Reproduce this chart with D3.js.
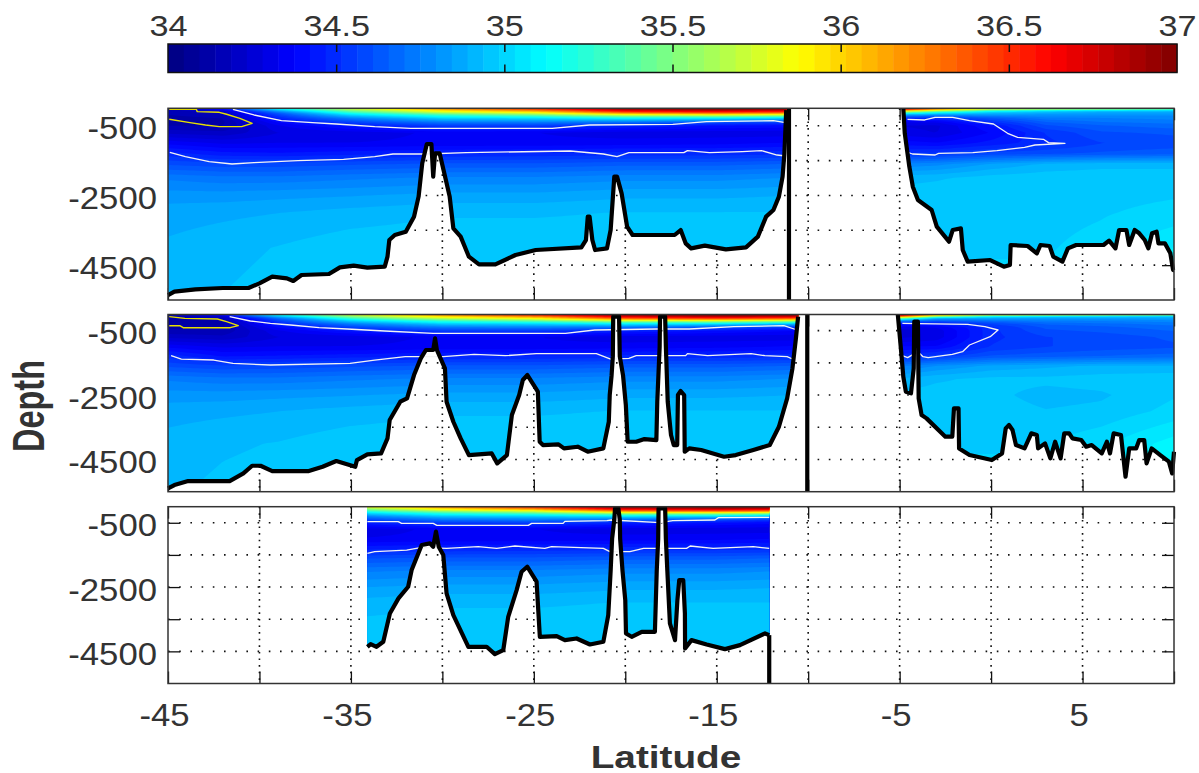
<!DOCTYPE html>
<html><head><meta charset="utf-8">
<style>html,body{margin:0;padding:0;background:#fff}svg{display:block}text{font-family:"Liberation Sans",Arial,sans-serif;fill:#333}</style>
<script src="https://cdn.jsdelivr.net/npm/d3@7"></script></head><body><div id="c"></div>
<script>
// ---------- tick labels ----------
const colorTicks=[34,34.5,35,35.5,36,36.5,37];
const latTicks=[-45,-40,-35,-30,-25,-20,-15,-10,-5,0,5,10];
const latLabels=[-45,-35,-25,-15,-5,5];
const depthTicks=[-500,-1500,-2500,-3500,-4500];
const depthLabels=[-500,-2500,-4500];
// ---------- salinity tables (columns by latitude, rows by depth) ----------
const fieldLats=[-45,-42,-39,-35,-30,-25,-20,-15,-11,-5,-3,0,3,6,10];
const fieldDepths=[0,50,100,150,200,250,300,400,500,700,1000,1300,1600,2000,2500,3000,4000,5500];
const salinityTop=[
[34.15,34.15,34.15,34.14,34.14,34.13,34.12,34.12,34.14,34.22,34.36,34.49,34.6,34.74,34.82,34.87,34.9,34.92],
[34.5,34.3,34.2,34.18,34.16,34.15,34.14,34.13,34.14,34.2,34.32,34.44,34.58,34.72,34.82,34.88,34.92,34.94],
[35.2,34.95,34.75,34.62,34.55,34.5,34.46,34.38,34.32,34.28,34.33,34.43,34.58,34.72,34.83,34.89,34.94,34.96],
[35.8,35.55,35.35,35.15,34.98,34.85,34.72,34.56,34.44,34.3,34.33,34.45,34.6,34.74,34.84,34.91,34.97,34.98],
[36.3,36,35.8,35.5,35.25,35.1,34.95,34.72,34.55,34.34,34.34,34.47,34.62,34.76,34.86,34.93,34.98,34.99],
[36.6,36.3,36,35.7,35.4,35.15,34.98,34.74,34.55,34.33,34.34,34.48,34.62,34.76,34.86,34.93,34.98,34.99],
[36.95,36.8,36.5,36.1,35.65,35.3,35.05,34.7,34.47,34.3,34.35,34.49,34.64,34.78,34.88,34.94,34.98,34.99],
[37,36.9,36.6,36.2,35.7,35.3,35,34.6,34.42,34.3,34.36,34.49,34.64,34.78,34.88,34.94,34.98,35],
[37,36.85,36.5,36.1,35.6,35.2,34.9,34.55,34.4,34.3,34.38,34.5,34.66,34.8,34.89,34.94,34.98,35],
[36.95,36.3,35.6,35.1,34.8,34.6,34.47,34.33,34.28,34.3,34.4,34.52,34.76,34.92,34.96,34.97,34.98,35],
[36.4,35.9,35.3,35,34.75,34.58,34.46,34.33,34.27,34.28,34.38,34.53,34.78,34.93,34.97,34.97,34.98,35],
[36,35.4,35.05,34.9,34.8,34.68,34.6,34.5,34.42,34.38,34.44,34.58,34.85,34.96,34.97,34.97,34.98,35],
[35.95,35.2,34.95,34.86,34.8,34.76,34.72,34.65,34.6,34.52,34.5,34.6,34.9,34.97,34.97,34.97,34.98,35],
[35.85,35.1,34.9,34.84,34.8,34.76,34.74,34.7,34.65,34.6,34.56,34.62,34.92,34.97,34.97,34.98,35,35.02],
[35.7,35.05,34.9,34.84,34.8,34.78,34.76,34.72,34.68,34.62,34.58,34.64,34.92,34.97,34.98,35,35.08,35.14]];
const salinityLower=[
[34.12,34.12,34.12,34.12,34.12,34.12,34.12,34.13,34.15,34.22,34.36,34.5,34.6,34.74,34.82,34.87,34.91,34.93],
[34.45,34.28,34.18,34.15,34.14,34.13,34.13,34.13,34.15,34.2,34.32,34.42,34.57,34.72,34.82,34.88,34.93,34.95],
[35.2,34.95,34.75,34.62,34.55,34.5,34.46,34.38,34.32,34.28,34.33,34.43,34.58,34.72,34.83,34.89,34.94,34.96],
[35.8,35.55,35.35,35.15,34.98,34.85,34.72,34.56,34.44,34.3,34.33,34.45,34.6,34.74,34.84,34.91,34.97,34.98],
[36.3,36,35.8,35.5,35.25,35.1,34.95,34.72,34.55,34.34,34.34,34.47,34.62,34.76,34.86,34.93,34.98,34.99],
[36.6,36.3,36,35.7,35.4,35.15,34.98,34.74,34.55,34.33,34.34,34.48,34.62,34.76,34.86,34.93,34.98,34.99],
[36.95,36.8,36.5,36.1,35.65,35.3,35.05,34.7,34.47,34.3,34.35,34.49,34.64,34.78,34.88,34.94,34.98,34.99],
[37,36.9,36.6,36.2,35.7,35.3,35,34.6,34.42,34.3,34.36,34.49,34.64,34.78,34.88,34.94,34.98,35],
[37,36.85,36.5,36.1,35.6,35.2,34.9,34.52,34.38,34.3,34.38,34.5,34.66,34.8,34.89,34.94,34.98,35],
[36.95,36.4,35.6,35.1,34.75,34.55,34.42,34.3,34.26,34.27,34.38,34.5,34.74,34.9,34.95,34.96,34.98,35],
[36.2,35.6,35,34.78,34.62,34.5,34.44,34.33,34.3,34.3,34.38,34.54,34.8,34.93,34.96,34.97,34.98,35],
[35.9,35.2,34.92,34.8,34.7,34.62,34.56,34.5,34.5,34.5,34.52,34.62,34.86,34.95,34.95,34.96,34.98,35],
[35.85,35.1,34.88,34.8,34.74,34.7,34.66,34.62,34.6,34.56,34.56,34.64,34.88,34.95,34.92,34.94,34.98,35],
[35.8,35.05,34.88,34.8,34.75,34.72,34.68,34.64,34.62,34.58,34.58,34.66,34.9,34.96,34.93,34.95,35.02,35.06],
[35.7,35,34.88,34.82,34.78,34.74,34.72,34.68,34.66,34.62,34.6,34.68,34.9,34.97,34.98,35,35.1,35.16]];
// ---------- sea floor [lat, depth] ----------
const floorTopWest=[[-45,5357],[-44.65,5261],[-43.5,5194],[-42,5156],[-40.6,5156],[-40,5022],[-39.3,4830],[-38.5,4879],[-38.15,4955],[-37.7,4783],[-36.2,4754],[-35.6,4563],[-34.85,4515],[-34.1,4573],[-33.15,4544],[-33,4257],[-32.9,3779],[-32.6,3635],[-32,3540],[-31.55,3109],[-31.3,2535],[-31.1,1579],[-30.85,1024],[-30.6,1024],[-30.5,1961],[-30.4,1292],[-30.15,1292],[-29.85,1961],[-29.6,2535],[-29.4,3444],[-29,3683],[-28.55,4257],[-28,4477],[-27.1,4477],[-26,4209],[-24.9,4066],[-22.4,3989],[-22.15,3779],[-22.05,3109],[-21.95,3109],[-21.8,3779],[-21.65,4066],[-21,4018],[-20.8,3492],[-20.6,1961],[-20.45,1961],[-20.2,2440],[-19.9,3396],[-19.6,3635],[-17.3,3635],[-16.97,3492],[-16.7,3874],[-16.4,4018],[-15.65,3941],[-14.5,4047],[-13.4,3989],[-12.75,3683],[-12.3,3109],[-11.9,2918],[-11.6,2535],[-11.4,1961],[-11.3,1292],[-11.2,50]];
const floorTopEast=[[-4.8,0],[-4.72,718],[-4.47,1675],[-4.28,2248],[-4,2630],[-3.25,2918],[-2.97,3396],[-2.3,3826],[-2.1,3492],[-1.65,3444],[-1.55,4066],[-1.28,4400],[-0.05,4353],[0.7,4544],[1.03,4496],[1.07,3922],[2,3951],[2.5,4161],[2.7,3922],[3.2,3951],[3.4,4257],[3.9,4400],[4.2,4018],[4.65,3922],[6.15,3922],[6.45,3797],[6.8,4018],[7,3492],[7.4,3492],[7.55,3922],[7.85,3492],[8.1,3587],[8.4,3779],[8.6,4018],[8.8,3587],[9.05,3540],[9.15,3874],[9.5,3874],[9.8,4161],[9.95,4640],[10,4640]];
const floorMidWest=[[-45,5397],[-44.65,5294],[-43.9,5170],[-41.63,5170],[-40.88,4932],[-40.4,4694],[-39.94,4694],[-39.3,4859],[-37.3,4859],[-36.55,4725],[-35.8,4549],[-34.76,4725],[-34.67,4518],[-34.1,4342],[-33.35,4311],[-33,3845],[-32.88,3276],[-32.3,2707],[-31.93,2603],[-31.55,1879],[-31.18,1361],[-30.9,1102],[-30.5,1102],[-30.4,740],[-30.3,1102],[-29.86,1671],[-29.77,2707],[-29.4,3328],[-29,3845],[-28.55,4363],[-27.3,4311],[-27,4621],[-26.47,4363],[-26.2,3120],[-25.8,2500],[-25.6,2034],[-25.35,1879],[-24.78,2396],[-24.68,3949],[-24.5,4052],[-23.65,4031],[-23.35,4156],[-22.6,4104],[-22.05,4259],[-21.2,4156],[-20.9,3328],[-20.85,2500],[-20.75,1900],[-20.68,1300],[-20.66,67],[-20.34,67],[-20.3,1300],[-20.12,1900],[-19.97,2800],[-19.87,3949],[-19.4,3949],[-18.95,3866],[-18.3,3897],[-18.25,2700],[-18.12,1000],[-18.1,67],[-17.82,67],[-17.78,1000],[-17.68,2700],[-17.5,3741],[-17.35,4052],[-17.16,4052],[-17.12,2500],[-16.97,2375],[-16.78,2500],[-16.75,4259],[-16.5,4156],[-15.85,4207],[-14.6,4414],[-13.96,4363],[-13,4207],[-12.1,4052],[-11.6,3483],[-11.15,2603],[-10.86,1671],[-10.67,740],[-10.55,67]];
const floorMidEast=[[-5.1,0],[-4.94,1000],[-4.8,1930],[-4.66,2396],[-4.38,2448],[-4.23,1671],[-4.2,222],[-4,222],[-3.96,2603],[-3.8,3120],[-3.53,3224],[-2.5,3793],[-2.12,3793],[-2.03,2914],[-1.78,2914],[-1.75,4156],[-1.18,4363],[0.04,4518],[0.6,4311],[0.8,3535],[0.98,3431],[1.17,3586],[1.36,4052],[1.83,4156],[2.2,3690],[2.5,3741],[2.57,4156],[2.95,4000],[3.24,4466],[3.5,3949],[3.8,4466],[4,3690],[4.27,3690],[4.45,3845],[4.93,3897],[5.2,4104],[5.5,4052],[6.05,4311],[6.33,3949],[6.5,4311],[6.7,3690],[7.1,3741],[7.35,5035],[7.55,4156],[7.93,4156],[8.1,3897],[8.37,3897],[8.5,4621],[8.78,4156],[9.25,4363],[9.72,4569],[9.9,4932],[10,4259]];
const floorLow=[[-34.1,4358],[-33.92,4275],[-33.6,4358],[-33.23,4203],[-32.87,3320],[-32.4,2853],[-31.87,2490],[-31.68,1971],[-31.13,1192],[-30.68,1140],[-30.5,1244],[-30.35,777],[-30.2,1244],[-29.95,1504],[-29.77,2697],[-29.4,3372],[-28.58,4358],[-27.58,4358],[-27.13,4587],[-26.67,4462],[-26.4,3424],[-25.94,2594],[-25.67,2023],[-25.36,1867],[-24.85,2334],[-24.67,4047],[-23.75,4026],[-23.3,4151],[-22.66,4099],[-21.93,4286],[-21.2,4203],[-20.93,3372],[-20.8,2000],[-20.72,1000],[-20.6,400],[-20.56,50],[-20.38,50],[-20.3,400],[-20.28,1000],[-20.15,2000],[-20,2905],[-19.96,3943],[-19.65,4047],[-19.1,3891],[-18.38,3891],[-18.28,2000],[-18.2,1000],[-18.18,50],[-17.82,50],[-17.78,1000],[-17.7,2000],[-17.56,3632],[-17.28,4151],[-17.15,2905],[-17.05,2282],[-16.83,2282],[-16.74,3320],[-16.73,4410],[-16.38,4151],[-15.55,4286],[-14.55,4431],[-13.73,4306],[-12.36,3943],[-12.13,3995]];
// ---------- walls [lat, depth] ----------
const wallTop=[[-11.05,0],[-11.05,5500]];
const wallMid=[[-10.05,0],[-10.05,5500]];
const wallLow=[[-12.13,3995],[-12.13,5500]];
// ---------- isohalines [lat, depth] ----------
const whiteTop=[
[[-41.45,30],[-40.3,192],[-38.8,355],[-37.1,412],[-35.8,450],[-33.7,527],[-31.75,575],[-24,575],[-21.95,479],[-17.4,460],[-15.56,383],[-11.9,355],[-11.24,412]],
[[-44.9,1263],[-44.05,1387],[-42.75,1531],[-41.5,1598],[-40.3,1560],[-37.9,1503],[-35.4,1464],[-33.7,1388],[-32.7,1311],[-30.9,1311],[-28.7,1273],[-23,1225],[-21.2,1311],[-20.45,1388],[-19.8,1273],[-16.8,1273],[-16.6,1215],[-15.4,1273],[-13.6,1244],[-12.55,1215],[-11.7,1340],[-11.24,1368]],
[[-4.57,316],[-3.63,335],[-3.06,259],[-2.1,259],[-1.18,355],[0.13,450],[0.9,718],[1.45,833],[2.86,890],[3.14,986],[4.04,1005],[2.4,1053],[1.83,1120],[0.32,1215],[-1,1273],[-2.87,1292],[-3.06,1340],[-4.3,1311],[-4.66,1244]]];
const yellowTop=[[-44.93,30],[-43.45,30],[-43.4,96],[-42.2,115],[-41.8,172],[-41.07,287],[-40.4,431],[-40.97,527],[-42.2,527],[-42.95,479],[-43.8,412],[-44.93,316]];
const whiteMid=[
[[-41.63,67],[-40.5,202],[-39.4,274],[-38.3,326],[-36.74,409],[-35.2,450],[-33.15,512],[-30.5,585],[-23.27,585],[-21.67,481],[-18.3,450],[-16.5,450],[-14.06,378],[-11.33,347],[-10.6,481]],
[[-44.83,1278],[-44.27,1382],[-42.5,1413],[-41.45,1516],[-39.4,1568],[-35.05,1516],[-33.7,1413],[-32.03,1309],[-29.95,1309],[-28.26,1237],[-26.56,1278],[-24.87,1216],[-21.58,1216],[-20.8,1382],[-19.8,1361],[-19.4,1278],[-16.7,1278],[-16.6,1216],[-15.5,1278],[-13.12,1216],[-12.37,1278],[-11.15,1309],[-10.86,1382]],
[[-4.85,274],[-1.28,305],[-0.34,378],[0.38,481],[-0.05,688],[-1.18,947],[-1.56,1154],[-2.12,1237],[-3.44,1340],[-3.72,1309],[-4,1154],[-4.56,1340],[-4.85,1278]]];
const yellowMid=[[-44.93,67],[-44.08,119],[-42.3,140],[-41.8,222],[-41.16,347],[-41.6,409],[-44.17,409],[-44.36,347],[-44.93,347]];
const whiteLow=[
[[-34.1,466],[-32.41,466],[-32.23,518],[-30.5,518],[-30.3,580],[-25.3,580],[-25.12,518],[-23.4,518],[-23.3,455],[-21,435],[-20.75,414],[-18.1,497],[-17.4,435],[-15.1,414],[-14.9,341],[-12.13,331]],
[[-34.1,1452],[-33.7,1400],[-31.95,1348],[-31.13,1265],[-29.77,1296],[-28.04,1244],[-27.03,1296],[-26.03,1223],[-24.4,1296],[-24.03,1244],[-21.2,1296],[-20.84,1400],[-19.75,1400],[-19,1296],[-16.65,1296],[-16.45,1223],[-15.2,1296],[-13,1244],[-12.13,1296]]];

// ---------- layout ----------
const W=1199,H=773,left=168,right=1174,depthMax=5500,SX=1.12;
const svg=d3.select("#c").append("svg").attr("width",W).attr("height",H);
svg.append("rect").attr("width",W).attr("height",H).attr("fill","#fff");
const x=d3.scaleLinear([-45,10],[left,right]);
const jet=d3.range(64).map(k=>{const v=(k+.5)/64,c=a=>Math.round(255*Math.max(0,Math.min(1,a)));
  return `rgb(${c(Math.min(4*v-1.5,-4*v+4.5))},${c(Math.min(4*v-.5,-4*v+3.5))},${c(Math.min(4*v+.5,-4*v+2.5))})`});
const stretch=(sel,fs)=>sel.attr("font-size",fs).attr("fill","#333").attr("font-family",'"Liberation Sans",Arial,sans-serif');

// colour bar
const cb={x0:168,x1:1177,y0:44,y1:72.5};
const cx=d3.scaleLinear([34,37],[cb.x0,cb.x1]);
const cg=svg.append("g");
cg.selectAll("rect").data(jet).join("rect")
  .attr("x",(d,i)=>cx(34+i*3/64)).attr("width",(d,i)=>cx(34+(i+1)*3/64)-cx(34+i*3/64)+.5)
  .attr("y",cb.y0).attr("height",cb.y1-cb.y0).attr("fill",d=>d);
svg.append("rect").attr("x",cb.x0).attr("y",cb.y0).attr("width",cb.x1-cb.x0).attr("height",cb.y1-cb.y0).attr("fill","none").attr("stroke","#111").attr("stroke-width",1.5);
const cTop=svg.append("g").attr("transform",`translate(0,${cb.y0})`).call(d3.axisTop(cx).tickValues(colorTicks).tickFormat(d3.format("")).tickSizeInner(-8).tickSizeOuter(0));
const cBot=svg.append("g").attr("transform",`translate(0,${cb.y1})`).call(d3.axisBottom(cx).tickValues(colorTicks.slice(1,-1)).tickFormat("").tickSizeInner(-8).tickSizeOuter(0));
cTop.select(".domain").remove();cBot.select(".domain").remove();
cTop.selectAll("line").attr("stroke","#111").attr("stroke-width",1.5);cBot.selectAll("line").attr("stroke","#111").attr("stroke-width",1.5);
cTop.selectAll("g.tick").filter(d=>d==34||d==37).select("line").remove();
cTop.selectAll("text").attr("y",-8).attr("dy",0).attr("transform",`scale(1.14,1)`).attr("x",0).call(stretch,30);

function panel(cfg){
  const y=d3.scaleLinear([0,depthMax],[cfg.top,cfg.bottom]);
  const g=svg.append("g");
  // dotted grid
  g.append("g").selectAll("line").data(latTicks.slice(1,-1)).join("line")
    .attr("x1",d=>x(d)).attr("x2",d=>x(d)).attr("y1",cfg.top).attr("y2",cfg.bottom)
    .attr("stroke","#111").attr("stroke-width",1.6).attr("stroke-dasharray","1.6,5");
  g.append("g").selectAll("line").data(depthTicks).join("line")
    .attr("x1",left).attr("x2",right).attr("y1",d=>y(-d)).attr("y2",d=>y(-d))
    .attr("stroke","#111").attr("stroke-width",1.6).attr("stroke-dasharray","1.6,9.6");
  // inner ticks on all sides
  const yAxisScale=d3.scaleLinear([0,-depthMax],[cfg.top,cfg.bottom]);
  const ax=[
   d3.axisBottom(x).tickValues(latTicks).tickSizeInner(-12).tickSizeOuter(0).tickFormat(d=>cfg.xLabels&&latLabels.includes(d)?d:""),
   d3.axisTop(x).tickValues(latTicks).tickSizeInner(-12).tickSizeOuter(0).tickFormat(""),
   d3.axisLeft(yAxisScale).tickValues(depthTicks).tickSizeInner(-12).tickSizeOuter(0).tickFormat(d=>depthLabels.includes(d)?d:""),
   d3.axisRight(yAxisScale).tickValues(depthTicks).tickSizeInner(-12).tickSizeOuter(0).tickFormat("")];
  const tr=[`translate(0,${cfg.bottom})`,`translate(0,${cfg.top})`,`translate(${left},0)`,`translate(${right},0)`];
  ax.forEach((a,i)=>{const s=g.append("g").attr("transform",tr[i]).call(a);s.select(".domain").remove();
    s.selectAll("line").attr("stroke","#111").attr("stroke-width",1.3);
    if(i==0) s.selectAll("text").attr("y",42.5).attr("dy",0).attr("x",-4/SX).attr("transform",`scale(${SX},1)`).call(stretch,31);
    if(i==2) s.selectAll("text").attr("x",-11/SX).attr("y",2).attr("dy",".36em").attr("text-anchor","end").attr("transform",`scale(${SX},1)`).call(stretch,31);
  });
  // sea water field
  const id="sea"+cfg.id;
  const area=d3.area().x(d=>x(d[0])).y0(cfg.top).y1(d=>y(d[1]));
  const clip=svg.append("clipPath").attr("id",id);
  cfg.floors.forEach(f=>clip.append("path").attr("d",area(f)));
  const dx=4,dy=1,nx=Math.ceil((right-left)/dx),ny=Math.ceil((cfg.bottom-cfg.top)/dy);
  const iLat=d3.scaleLinear(fieldLats,d3.range(fieldLats.length)).clamp(true);
  const iDep=d3.scaleLinear(fieldDepths,d3.range(fieldDepths.length)).clamp(true);
  const at=(lat,dep)=>{const a=iLat(lat),b=iDep(dep),i=Math.min(Math.floor(a),fieldLats.length-2),j=Math.min(Math.floor(b),fieldDepths.length-2),u=a-i,v=b-j,T=cfg.table;
    return (T[i][j]*(1-u)+T[i+1][j]*u)*(1-v)+(T[i][j+1]*(1-u)+T[i+1][j+1]*u)*v};
  const vals=new Float64Array(nx*ny);
  for(let j=0;j<ny;j++)for(let i=0;i<nx;i++)vals[i+j*nx]=at(x.invert(left+(i+.5)*dx),y.invert(cfg.top+(j+.5)*dy));
  const th=d3.range(64).map(k=>34+k*3/64);
  const polys=d3.contours().size([nx,ny]).thresholds(th)(vals);
  const geo=d3.geoPath(d3.geoIdentity().scale(1));
  const sea=g.append("g").attr("clip-path",`url(#${id})`);
  const inner=sea.append("g").attr("transform",`translate(${left},${cfg.top}) scale(${dx},${dy})`);
  inner.append("rect").attr("width",nx).attr("height",ny).attr("fill",jet[0]);
  inner.selectAll("path").data(polys).join("path").attr("d",geo).attr("fill",(d,i)=>jet[i]);
  // isohalines and sea floor
  const line=d3.line().x(d=>x(d[0])).y(d=>y(d[1]));
  const lg=g.append("g").attr("fill","none").attr("stroke-linejoin","round");
  lg.selectAll(".w").data(cfg.white).join("path").attr("class","w").attr("d",line).attr("stroke","#f4f4f4").attr("stroke-width",1.3);
  if(cfg.yellow) lg.append("path").attr("d",line(cfg.yellow)).attr("stroke","#e6e000").attr("stroke-width",1.4);
  lg.selectAll(".f").data(cfg.floors.concat(cfg.walls)).join("path").attr("class","f").attr("d",line).attr("stroke","#000").attr("stroke-width",4.2);
  // frame
  g.append("rect").attr("x",left).attr("y",cfg.top).attr("width",right-left).attr("height",cfg.bottom-cfg.top)
    .attr("fill","none").attr("stroke","#333").attr("stroke-width",1.5);
}
panel({id:1,top:108.3,bottom:300,table:salinityTop,floors:[floorTopWest,floorTopEast],walls:[wallTop],white:whiteTop,yellow:yellowTop});
panel({id:2,top:314.5,bottom:491.7,table:salinityLower,floors:[floorMidWest,floorMidEast],walls:[wallMid],white:whiteMid,yellow:yellowMid});
panel({id:3,top:506.7,bottom:683.5,table:salinityLower,floors:[floorLow],walls:[wallLow],white:whiteLow,xLabels:true});
// axis titles
svg.append("text").attr("transform",`translate(666,768) scale(1.25,1)`).attr("text-anchor","middle").attr("font-size",31).attr("font-weight","bold").attr("font-family",'"Liberation Sans",Arial,sans-serif').attr("fill","#222").text("Latitude");
svg.append("text").attr("transform",`translate(43.5,406) scale(1.34,1) rotate(-90)`).attr("text-anchor","middle").attr("font-size",32.5).attr("font-weight","bold").attr("font-family",'"Liberation Sans",Arial,sans-serif').attr("fill","#222").text("Depth");
</script></body></html>
